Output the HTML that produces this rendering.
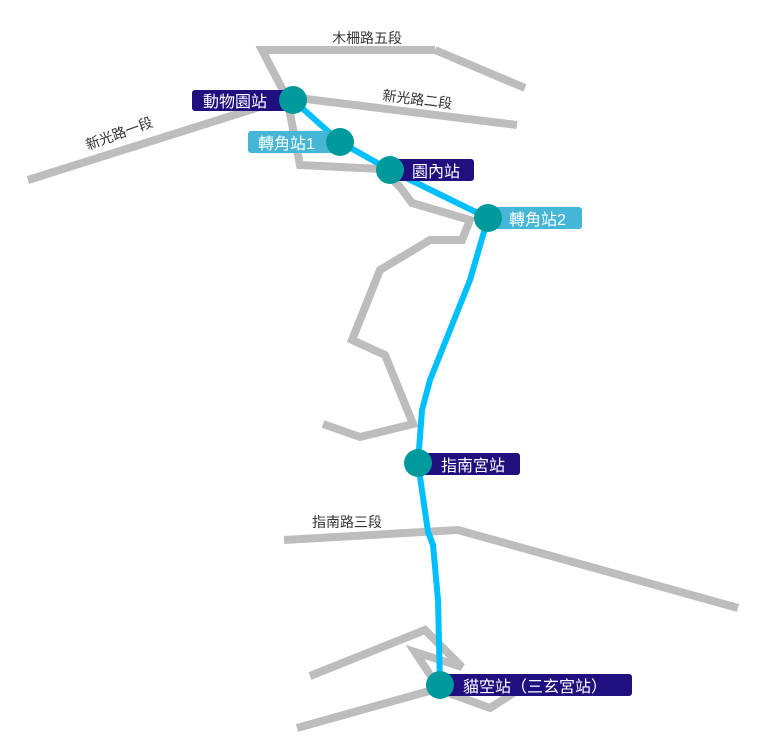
<!DOCTYPE html>
<html><head><meta charset="utf-8"><style>
html,body{margin:0;padding:0;background:#fff;width:762px;height:756px;overflow:hidden}
svg{display:block}
text{font-family:"Liberation Sans","Noto Sans CJK TC",sans-serif}
</style></head><body>
<svg width="762" height="756" viewBox="0 0 762 756">
<g fill="none" stroke="#bdbdbd" stroke-width="8" stroke-linejoin="miter">
<polyline points="435,50 262,50 287,98 300,165 382,169 400,187 412,203 470,220 462,240 430,240 380,270 352,340 385,355 413,424 360,437 323,424"/>
<polyline points="435,50 525,88"/>
<polyline points="290,97 517,125"/>
<polyline points="28,180 288,98"/>
<polyline points="284,540 458,530 738,608"/>
<polyline points="310,676 425,630 462,667 415,652 440,690 490,708 515,692"/>
<polyline points="297,728 440,688"/>
</g>
<polyline fill="none" stroke="#00bfff" stroke-width="6" stroke-linejoin="round" stroke-linecap="round" points="293,100 340,142 390,170 488,218 470,280 430,380 422,410 418,463 428,532 433,545 438,600 440,685"/>
<g fill="#1f0f7f">
<rect x="192" y="90" width="100" height="21" rx="3"/>
<rect x="390" y="159" width="84" height="22" rx="3"/>
<rect x="418" y="453" width="102" height="22" rx="3"/>
<rect x="440" y="674" width="192" height="22" rx="3"/>
</g>
<g fill="#45b6d6">
<rect x="248" y="131" width="92" height="22" rx="3"/>
<rect x="488" y="207" width="94" height="22" rx="3"/>
</g>
<g fill="#00999c">
<circle cx="293" cy="100" r="14"/>
<circle cx="340" cy="142" r="14"/>
<circle cx="390" cy="170" r="14"/>
<circle cx="488" cy="218" r="14"/>
<circle cx="418" cy="463" r="14"/>
<circle cx="440" cy="685" r="14"/>
</g>
<g fill="#fff" font-size="16">
<text x="203" y="107">動物園站</text>
<text x="258" y="149">轉角站1</text>
<text x="412" y="177">園內站</text>
<text x="509" y="225">轉角站2</text>
<text x="441" y="471">指南宮站</text>
<text x="463" y="692">貓空站（三玄宮站）</text>
</g>
<g fill="#333" font-size="14">
<text x="332" y="43">木柵路五段</text>
<text x="312" y="527">指南路三段</text>
<text x="382" y="100" transform="rotate(7 382 100)">新光路二段</text>
<text x="88" y="150" transform="rotate(-20 88 150)">新光路一段</text>
</g>
</svg>
</body></html>
